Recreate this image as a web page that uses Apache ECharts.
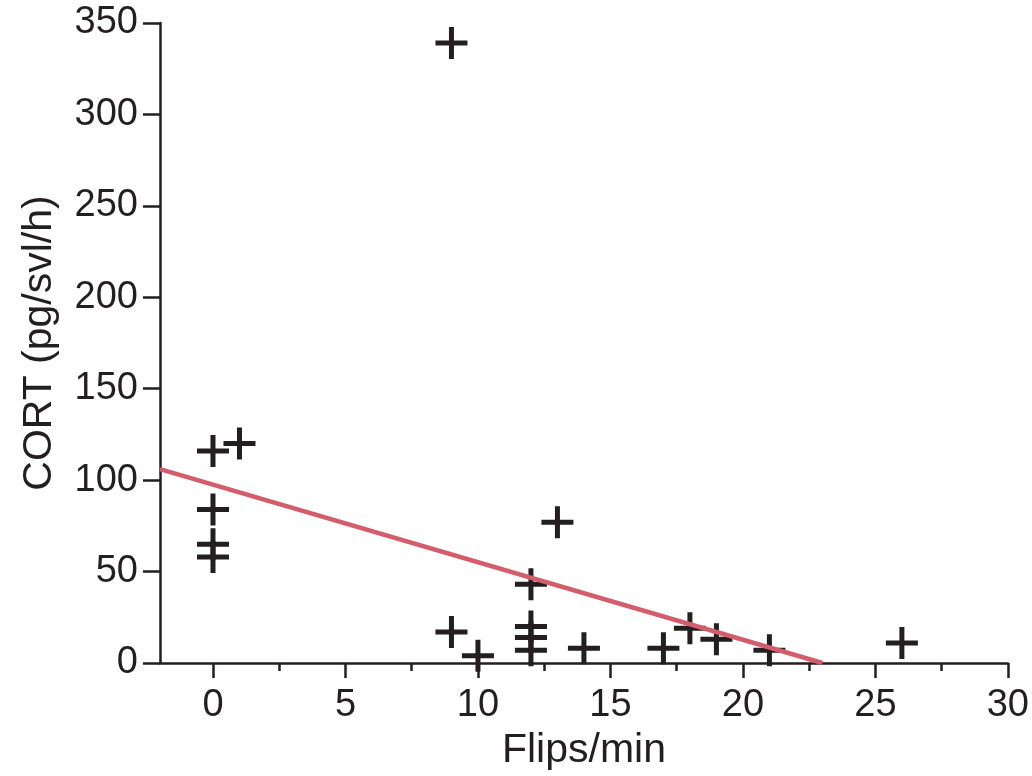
<!DOCTYPE html>
<html>
<head>
<meta charset="utf-8">
<script src="https://cdn.jsdelivr.net/npm/echarts@6/dist/echarts.min.js"></script>
<style>
html,body{margin:0;padding:0;background:#fff;}
#chart{width:1032px;height:776px;}
</style>
</head>
<body>
<div id="chart"></div>
<script>
// Data
const flips = [0, 0, 0, 0, 1, 9, 9, 10, 12, 12, 12, 12, 13, 14, 17, 18, 19, 21, 26];
const cort  = [116, 84, 65, 58, 120, 339, 17, 4, 43, 20, 14, 7, 77, 8, 8, 19, 13, 7, 11];
const fitX = [-2, 23];
const fitY = [106, 0];
const xTicks = [0, 5, 10, 15, 20, 25, 30];
const xMinorTicks = [2.5, 7.5, 12.5, 17.5, 22.5, 27.5];
const yTicks = [0, 50, 100, 150, 200, 250, 300, 350];

const ink = '#231f20';
const font = '"Liberation Sans", Arial, Helvetica, sans-serif';
const plusPath = 'path://M0,13.5H13.5V0H18.5V13.5H32V18.5H18.5V32H13.5V18.5H0Z';

const chart = echarts.init(document.getElementById('chart'), null, {renderer: 'canvas'});
chart.setOption({
  animation: false,
  backgroundColor: '#fff',
  grid: {left: 160, right: 19, top: 23, bottom: 111, containLabel: false},
  xAxis: [{
    type: 'value', min: -2, max: 30, position: 'bottom',
    name: 'Flips/min', nameLocation: 'middle', nameGap: 67,
    nameTextStyle: {fontFamily: font, fontSize: 41, color: ink},
    axisLine: {show: true, onZero: false, lineStyle: {color: ink, width: 2.5}},
    axisTick: {show: true, length: 15, lineStyle: {color: ink, width: 2.5}, customValues: xTicks},
    axisLabel: {fontFamily: font, fontSize: 38, color: ink, margin: 24, customValues: xTicks},
    splitLine: {show: false}
  }, {
    type: 'value', min: -2, max: 30, position: 'bottom', offset: 0,
    axisLine: {show: false, onZero: false},
    axisTick: {show: true, length: 8, lineStyle: {color: ink, width: 2.5}, customValues: xMinorTicks},
    axisLabel: {show: false},
    splitLine: {show: false}
  }],
  yAxis: {
    type: 'value', min: 0, max: 350, interval: 50,
    name: 'CORT (pg/svl/h)', nameLocation: 'middle', nameGap: 100, nameRotate: 90,
    nameTextStyle: {fontFamily: font, fontSize: 41, color: ink},
    axisLine: {show: true, onZero: false, lineStyle: {color: ink, width: 2.5}},
    axisTick: {show: true, length: 17, lineStyle: {color: ink, width: 2.5}},
    axisLabel: {fontFamily: font, fontSize: 38, color: ink, margin: 22, customValues: yTicks},
    splitLine: {show: false}
  },
  series: [{
    type: 'scatter',
    data: flips.map((x, i) => [x, cort[i]]),
    symbol: plusPath,
    symbolSize: 32,
    itemStyle: {color: ink, opacity: 1},
    z: 2
  }, {
    type: 'line',
    data: fitX.map((x, i) => [x, fitY[i]]),
    showSymbol: false,
    symbol: 'none',
    lineStyle: {color: '#d45d6c', width: 4.5},
    z: 3
  }]
});
</script>
</body>
</html>
